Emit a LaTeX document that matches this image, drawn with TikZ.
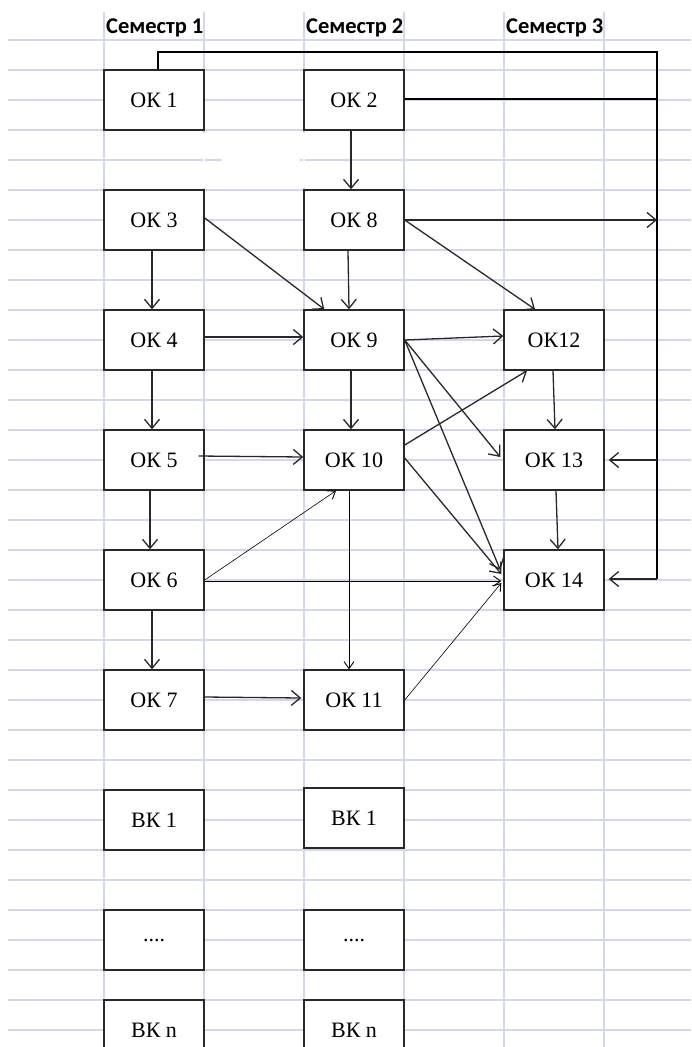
\documentclass[tikz,border=0pt]{standalone}
\usepackage{fontspec}
\setmainfont{Liberation Serif}
\newfontfamily\hdrfont{Carlito}
\usetikzlibrary{arrows.meta,calc}
\definecolor{gridc}{RGB}{210,216,232}
\definecolor{ink}{RGB}{40,40,40}
\begin{document}
\begin{tikzpicture}[x=1pt,y=-1pt,
  box/.style={draw=ink, line width=1.4pt, fill=white, minimum width=100pt, minimum height=60pt, inner sep=0pt, font=\fontsize{22}{26}\selectfont},
  hdr/.style={anchor=west, inner sep=0pt, font=\hdrfont\bfseries\fontsize{22.5}{26}\selectfont},
  arr/.style={draw=ink, line width=1.3pt, -{Straight Barb[length=9pt,width=15pt]}},
  thinarr/.style={draw=black, line width=0.6pt, -{Straight Barb[length=7pt,width=10pt,line width=0.9pt]}},
  midarr/.style={draw=black, line width=0.9pt, -{Straight Barb[length=7pt,width=10pt]}},
  wire/.style={draw=black, line width=1.3pt},
  gridline/.style={draw=gridc, line width=1.3pt}]
\clip (0,0) rectangle (691,1047);
\fill[white] (0,0) rectangle (691,1047);
% spreadsheet grid
\foreach \y in {40,70,...,1030} \draw[gridline] (8,\y) -- (691,\y);
\foreach \x in {104,204,...,604} \draw[gridline] (\x,12) -- (\x,1047);
% erased grid patches
\draw[white, line width=2.5pt] (204,133) -- (204,188);
\draw[white, line width=2.5pt] (304,133) -- (304,188);
\draw[white, line width=2.5pt] (222,160) -- (300,160);
% headers
\node[hdr] (s1) at (106,28) {Семестр 1};
\node[hdr] (s2) at (306,28) {Семестр 2};
\node[hdr] (s3) at (506,28) {Семестр 3};
% boxes
\node[box] (ok1) at (154,100) {ОК 1};
\node[box] (ok2) at (354,100) {ОК 2};
\node[box] (ok3) at (154,220) {ОК 3};
\node[box] (ok8) at (354,220) {ОК 8};
\node[box] (ok4) at (154,340) {ОК 4};
\node[box] (ok9) at (354,340) {ОК 9};
\node[box] (ok12) at (554,340) {ОК12};
\node[box] (ok5) at (154,460) {ОК 5};
\node[box] (ok10) at (354,460) {ОК 10};
\node[box] (ok13) at (554,460) {ОК 13};
\node[box] (ok6) at (154,580) {ОК 6};
\node[box] (ok14) at (554,580) {ОК 14};
\node[box] (ok7) at (154,700) {ОК 7};
\node[box] (ok11) at (354,700) {ОК 11};
\node[box] (bk1a) at (154,820) {ВК 1};
\node[box] (bk1b) at (354,818) {ВК 1};
\node[box] (dta) at (154,940) {....};
\node[box] (dtb) at (354,940) {....};
\node[box] (bkna) at (154,1030) {ВК n};
\node[box] (bknb) at (354,1030) {ВК n};
% right trunk
\coordinate (tr) at (657,52);
\coordinate (tm) at (657,99);
\coordinate (tb) at (657,579);
\draw[wire] ([xshift=4pt]ok1.north) |- (tr) -- (tm);
\draw[wire] ([yshift=1pt]ok2.east) -- (tm);
\draw[wire] (tm) -- (tb);
\draw[arr] (ok8.east) -- (ok8.east -| tm);
\draw[arr] (ok13.east -| tm) -- ([xshift=4pt]ok13.east);
\draw[arr] (tb) -- ([xshift=4pt,yshift=1pt]ok14.east);
% column 1
\draw[arr] ([xshift=-2pt]ok3.south) -- ([xshift=-2pt]ok4.north);
\draw[arr] ([xshift=-2pt]ok4.south) -- ([xshift=-2pt]ok5.north);
\draw[arr] ([xshift=-4pt]ok5.south) -- ([xshift=-4pt]ok6.north);
\draw[arr] ([xshift=-2pt]ok6.south) -- ([xshift=-2pt]ok7.north);
% column 1 -> 2
\draw[arr] ([yshift=2pt]ok3.east) -- ([xshift=21pt]ok9.north west);
\draw[arr] ([yshift=3pt]ok4.east) -- ([yshift=3pt]ok9.west);
\draw[arr] ([xshift=-6pt,yshift=4pt]ok5.east) -- ([yshift=3pt]ok10.west);
\draw[thinarr] (ok6.east) -- ([xshift=-18pt]ok10.south);
\draw[midarr] ([yshift=-1pt]ok6.east) -- ([xshift=-2pt,yshift=-1pt]ok14.west);
\draw[arr] ([yshift=3pt]ok7.east) -- ([xshift=-2pt,yshift=2pt]ok11.west);
% column 2
\draw[arr] ([xshift=-3pt]ok2.south) -- ([xshift=-3pt]ok8.north);
\draw[arr] ([xshift=-6pt]ok8.south) -- ([xshift=-5pt]ok9.north);
\draw[arr] ([xshift=-3pt]ok9.south) -- ([xshift=-3pt]ok10.north);
\draw[midarr] ([xshift=-5pt]ok10.south) -- ([xshift=-5pt]ok11.north);
% column 2 -> 3
\draw[arr] (ok8.east) -- ([xshift=-19pt]ok12.north);
\draw[arr] (ok9.east) -- ([yshift=4pt]ok12.west);
\draw[arr] (ok9.east) -- ([xshift=-3pt,yshift=3pt]ok13.west);
\draw[arr] (ok9.east) -- ([xshift=-3pt,yshift=10pt]ok14.west);
\draw[arr] ([yshift=15pt]ok10.east) -- ([xshift=-27pt]ok12.south);
\draw[arr] ([yshift=2pt]ok10.east) -- ([xshift=-2pt,yshift=6pt]ok14.west);
\draw[thinarr] (ok11.east) -- ([xshift=-2pt,yshift=-3pt]ok14.west);
% column 3
\draw[arr] ([xshift=-1pt]ok12.south) -- ([xshift=1pt]ok13.north);
\draw[arr] ([xshift=2pt]ok13.south) -- ([xshift=4pt]ok14.north);
\end{tikzpicture}
\end{document}
